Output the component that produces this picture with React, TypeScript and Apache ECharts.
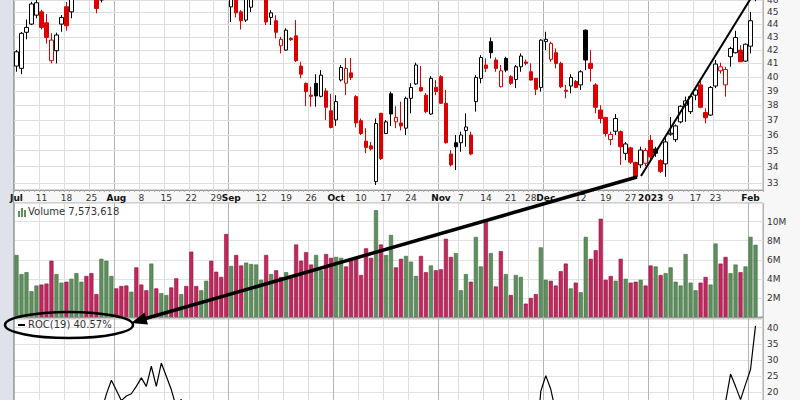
import React, { useEffect, useRef } from "react";
import * as echarts from "echarts";

// ---- categories (trading days) ----
const dates: string[] = [
  "2022-07-01","2022-07-05","2022-07-06","2022-07-07","2022-07-08","2022-07-11","2022-07-12","2022-07-13","2022-07-14","2022-07-15",
  "2022-07-18","2022-07-19","2022-07-20","2022-07-21","2022-07-22","2022-07-25","2022-07-26","2022-07-27","2022-07-28","2022-07-29",
  "2022-08-01","2022-08-02","2022-08-03","2022-08-04","2022-08-05","2022-08-08","2022-08-09","2022-08-10","2022-08-11","2022-08-12",
  "2022-08-15","2022-08-16","2022-08-17","2022-08-18","2022-08-19","2022-08-22","2022-08-23","2022-08-24","2022-08-25","2022-08-26",
  "2022-08-29","2022-08-30","2022-08-31",
  "2022-09-01","2022-09-02","2022-09-06","2022-09-07","2022-09-08","2022-09-09","2022-09-12","2022-09-13","2022-09-14","2022-09-15",
  "2022-09-16","2022-09-19","2022-09-20","2022-09-21","2022-09-22","2022-09-23","2022-09-26","2022-09-27","2022-09-28","2022-09-29","2022-09-30",
  "2022-10-03","2022-10-04","2022-10-05","2022-10-06","2022-10-07","2022-10-10","2022-10-11","2022-10-12","2022-10-13","2022-10-14",
  "2022-10-17","2022-10-18","2022-10-19","2022-10-20","2022-10-21","2022-10-24","2022-10-25","2022-10-26","2022-10-27","2022-10-28","2022-10-31",
  "2022-11-01","2022-11-02","2022-11-03","2022-11-04","2022-11-07","2022-11-08","2022-11-09","2022-11-10","2022-11-11",
  "2022-11-14","2022-11-15","2022-11-16","2022-11-17","2022-11-18","2022-11-21","2022-11-22","2022-11-23","2022-11-25",
  "2022-11-28","2022-11-29","2022-11-30",
  "2022-12-01","2022-12-02","2022-12-05","2022-12-06","2022-12-07","2022-12-08","2022-12-09","2022-12-12","2022-12-13","2022-12-14",
  "2022-12-15","2022-12-16","2022-12-19","2022-12-20","2022-12-21","2022-12-22","2022-12-23","2022-12-27","2022-12-28","2022-12-29","2022-12-30",
  "2023-01-03","2023-01-04","2023-01-05","2023-01-06","2023-01-09","2023-01-10","2023-01-11","2023-01-12","2023-01-13",
  "2023-01-17","2023-01-18","2023-01-19","2023-01-20","2023-01-23","2023-01-24","2023-01-25","2023-01-26","2023-01-27",
  "2023-01-30","2023-01-31","2023-02-01","2023-02-02"
];
const padDates: string[] = ["2023-02-03"];

// ---- price series (OHLC) ----
const opens: number[] = [
  40.8,40.63,43.38,44.03,44.75,45.02,44.13,41.2,41.95,44.03,45.44,45.02,46.8,47.4,48.1,47.3,46.5,46.0,48.8,50.4,
  51.9,51.0,50.9,50.5,51.8,50.9,50.6,51.2,53.4,52.5,53.8,55.2,53.8,52.6,53.0,51.0,49.2,48.7,49.4,50.0,
  47.6,47.4,47.0,45.43,46.3,45.02,44.35,45.4,46.7,47.3,47.0,44.57,44.3,42.33,42.0,42.9,43.1,40.8,39.54,38.7,
  39.54,38.62,39.0,37.62,37.0,39.78,39.55,40.3,38.6,36.95,35.6,35.3,33.08,37.45,36.1,38.8,36.87,36.8,36.45,38.48,
  39.5,39.25,38.7,37.4,39.25,40.02,38.13,34.78,35.5,35.5,36.3,36.0,38.25,39.9,40.88,42.65,41.25,39.3,41.37,40.02,
  39.82,40.75,41.1,40.38,39.9,39.25,42.65,41.3,41.8,41.0,39.05,39.35,39.67,39.43,43.55,41.0,39.43,37.67,37.17,35.7,
  36.25,36.22,34.82,35.17,34.25,34.1,34.2,35.65,35.1,34.37,34.16,36.05,35.7,36.87,38.0,37.56,38.7,39.43,37.5,37.33,
  39.35,40.45,39.43,41.5,41.8,42.0,41.17,42.3,46.6
];
const highs: number[] = [
  42.0,43.4,44.4,45.85,46.2,45.2,44.85,43.3,43.35,44.76,45.85,47.0,47.8,48.3,48.6,47.7,47.0,48.9,50.5,52.2,
  52.4,51.6,51.3,51.9,52.0,51.4,50.9,53.3,53.8,54.3,55.4,55.5,54.1,53.6,53.3,51.3,49.6,49.6,50.5,50.2,
  48.0,47.8,47.3,47.0,46.6,45.16,46.6,47.0,47.6,48.1,47.5,45.16,44.75,43.03,43.7,43.0,44.35,41.12,39.6,39.3,
  40.2,40.5,39.2,38.8,38.7,40.88,41.4,41.4,38.7,37.1,36.45,35.55,37.1,37.47,37.0,38.95,37.93,38.25,38.6,39.55,
  41.05,40.8,38.85,40.06,39.78,40.13,39.07,35.03,36.0,36.22,37.45,36.22,40.13,41.62,41.37,42.97,41.44,40.88,41.5,40.13,
  40.88,41.75,41.3,41.0,39.9,42.83,43.42,42.65,42.13,41.12,39.43,40.2,39.78,40.5,43.6,42.0,39.55,38.0,37.2,36.22,
  37.4,36.3,35.55,35.24,34.3,35.24,35.15,36.0,35.24,34.45,35.9,37.2,36.7,38.0,38.6,38.7,39.25,39.78,37.79,39.35,
  41.25,41.05,40.75,42.25,43.5,42.38,42.5,45.02,48.0
];
const lows: number[] = [
  40.38,40.2,42.83,43.95,44.5,43.6,42.5,41.0,41.0,43.42,43.5,44.5,46.3,47.0,46.9,46.5,44.9,45.8,48.3,50.0,
  50.8,50.2,49.8,50.1,50.4,50.0,49.6,51.0,52.0,52.2,53.5,53.7,52.2,52.1,51.2,48.7,48.2,48.4,49.1,47.8,
  47.0,46.6,46.0,44.2,44.57,43.6,44.2,45.0,46.4,47.0,43.95,43.96,42.9,41.75,41.95,42.7,41.1,39.9,37.93,37.9,
  37.9,38.55,37.0,36.43,36.6,39.67,38.7,39.78,36.5,36.0,34.83,35.0,32.88,34.4,36.06,36.6,36.45,36.3,36.0,37.45,
  39.43,38.95,37.45,37.33,38.7,38.13,35.45,34.0,33.78,34.92,35.24,34.7,37.56,39.54,40.35,41.37,40.38,39.25,40.35,39.43,
  39.2,40.38,40.85,39.73,38.7,38.95,42.0,41.12,40.63,39.2,38.48,38.83,39.2,39.07,40.5,39.67,37.45,36.77,35.9,35.34,
  36.0,34.1,34.4,34.16,33.27,33.9,34.03,34.3,34.6,33.6,33.37,35.95,35.55,36.77,36.87,37.4,38.35,37.79,36.77,37.26,
  39.2,40.25,38.6,40.75,41.75,41.1,41.1,41.75,45.9
];
const closes: number[] = [
  41.87,43.3,43.77,45.67,45.77,43.77,42.98,42.77,43.17,44.57,43.9,46.6,47.3,47.9,47.2,46.9,45.3,48.6,50.2,51.8,
  51.2,50.6,50.3,51.5,50.8,50.4,50.0,53.0,52.2,54.0,55.0,54.0,52.5,53.2,51.5,49.0,48.6,49.3,50.2,48.0,
  47.3,46.8,46.2,46.5,44.94,44.3,46.3,46.6,47.2,47.8,44.2,44.94,43.38,42.83,43.55,42.8,41.2,40.2,38.95,38.62,
  38.65,40.13,37.86,36.5,38.25,40.7,40.63,39.97,36.8,36.1,35.2,35.1,36.76,34.5,36.87,37.4,37.17,36.6,38.48,39.25,
  40.88,39.0,37.56,39.9,38.95,38.13,35.5,34.1,35.24,36.0,36.53,34.78,39.97,41.44,40.63,41.8,40.63,40.45,40.5,39.54,
  40.75,41.55,41.0,39.78,39.12,42.77,42.83,42.5,41.0,39.3,38.98,39.97,39.25,40.38,41.25,40.63,37.86,37.1,36.1,36.04,
  37.1,35.24,35.42,34.27,33.37,35.03,35.0,34.6,34.83,33.7,35.55,36.12,36.6,37.93,38.3,38.6,39.07,37.86,37.15,39.25,
  40.95,40.75,40.55,42.13,42.97,41.12,42.45,44.3,47.37
];

// ---- volume (millions) ----
const volumes: number[] = [
  6.5,4.5,4.7,2.7,3.3,3.4,3.5,5.9,4.5,3.6,3.7,4.0,4.6,3.7,4.3,4.6,2.4,6.1,5.9,4.3,
  3.0,3.25,3.3,2.65,5.2,3.4,2.8,5.6,3.0,2.5,2.3,3.1,4.05,2.4,3.25,6.85,3.25,2.8,3.8,5.9,
  4.75,4.2,8.7,5.35,6.5,5.4,5.7,5.55,5.5,3.9,6.5,4.5,4.9,4.2,4.7,4.4,7.6,5.9,6.8,5.5,
  6.5,4.9,6.6,6.2,6.3,6.2,5.3,6.1,6.2,4.4,7.2,6.2,11.2,7.6,6.5,8.6,5.2,6.1,6.4,5.8,
  4.3,6.4,4.7,5.4,4.9,5.0,8.2,6.3,6.7,2.8,4.5,3.7,8.4,5.3,10.2,6.7,3.2,6.9,4.5,2.3,
  4.4,4.2,1.4,2.0,2.4,7.3,3.9,3.8,3.3,4.8,5.6,3.0,3.6,2.6,8.4,6.1,7.0,10.3,3.9,4.3,
  3.8,6.1,4.0,3.6,3.7,3.9,3.3,5.4,5.3,4.4,4.6,5.2,3.7,3.3,6.6,3.6,2.8,3.6,4.2,3.4,
  7.7,5.6,6.3,4.6,5.5,4.7,5.3,8.4,7.573618
];
const lastVolumeLabel = "7,573,618";

// ---- ROC(19) in percent ----
const roc: number[] = [
  -6,1,3,8,9,4,2,1,3,7,5,10,12,13,11,10,6,14,19.5,23.8,
  20.7,17.5,18.9,19.6,21.9,24.5,21.9,28.1,21.9,29.1,25.0,20.9,15.5,17.9,12.0,8.2,0,-1.8,-3.1,-6.3,
  -6.5,-7.0,-10.3,-8.5,-10.8,-11.4,-12.6,-10.7,-12.6,-13.1,-18.1,-14.4,-18.5,-16.8,-11.1,-11.9,-16.4,-19.9,-18.9,-18.4,
  -17.4,-13.1,-18.6,-18.8,-13.7,-12.1,-12.8,-15.3,-23.0,-18.3,-21.7,-19.1,-14.2,-20.8,-13.9,-9.2,-7.5,-6.0,-0.4,1.6,
  1.9,3.0,2.9,4.3,-4.3,-6.2,-11.2,-7.3,-2.4,2.3,4.1,-5.4,15.9,12.4,8.6,12.5,11.0,5.1,3.2,-3.3,
  4.5,10.6,2.8,2.1,2.6,20.4,25.2,21.0,13.9,7.6,12.1,0,-5.3,-0.6,-1.3,0,-6.4,-8.4,-8.7,-11.6,
  -10.7,-14.0,-11.0,-12.4,-22.0,-18.2,-17.6,-15.6,-11.4,-13.5,-11.1,-8.0,-9.4,-8.0,-5.7,2.0,5.3,4.9,3.1,5.8,
  16.2,15.1,17.0,25.7,21.9,17.8,22.5,27.1,40.57
];
const rocLabel = "ROC(19) 40.57%";

// ---- axis ticks ----
const priceTicks: number[] = [33,34,35,36,37,38,39,40,41,42,43,44,45,46];
const tickLabels: [string, string][] = [
  ["2022-07-01","Jul"],["2022-07-11","11"],["2022-07-18","18"],["2022-07-25","25"],
  ["2022-08-01","Aug"],["2022-08-08","8"],["2022-08-15","15"],["2022-08-22","22"],["2022-08-29","29"],
  ["2022-09-01","Sep"],["2022-09-12","12"],["2022-09-19","19"],["2022-09-26","26"],
  ["2022-10-03","Oct"],["2022-10-10","10"],["2022-10-17","17"],["2022-10-24","24"],
  ["2022-11-01","Nov"],["2022-11-07","7"],["2022-11-14","14"],["2022-11-21","21"],["2022-11-28","28"],
  ["2022-12-01","Dec"],["2022-12-12","12"],["2022-12-19","19"],["2022-12-27","27"],
  ["2023-01-03","2023"],["2023-01-09","9"],["2023-01-17","17"],["2023-01-23","23"],
  ["2023-02-01","Feb"]
];
const monthStarts: string[] = ["2022-07-01","2022-08-01","2022-09-01","2022-10-03","2022-11-01","2022-12-01","2023-01-03","2023-02-01"];

const RED = "#dd0000";
const VOL_UP = "#5f8f5f";
const VOL_UP_B = "#3f6e3f";
const VOL_DN = "#c2275e";
const VOL_DN_B = "#8c1540";

export default function App() {
  const ref = useRef<HTMLDivElement>(null);
  useEffect(() => {
    if (!ref.current) return;
    const chart = echarts.init(ref.current, undefined, { renderer: "svg" });
    const cats = dates.concat(padDates);
    const labelMap: Record<string, string> = {};
    tickLabels.forEach(([d, l]) => (labelMap[d] = l));
    const monthSet = new Set(monthStarts);
    const isTick = (_i: number, v: string) => labelMap[v] !== undefined;
    const isMonth = (_i: number, v: string) => monthSet.has(v);

    const candleData = dates.map((d, i) => {
      const o = opens[i], c = closes[i];
      const prev = i > 0 ? closes[i - 1] : o;
      const up = c >= prev;
      const hollow = c > o;
      const col = up ? "#000000" : RED;
      return {
        value: [o, c, lows[i], highs[i]],
        itemStyle: {
          color: hollow ? "#ffffff" : col,
          color0: hollow ? "#ffffff" : col,
          borderColor: col,
          borderColor0: col,
          borderWidth: 1,
        },
      };
    });
    const volData = dates.map((d, i) => {
      const up = i === 0 ? true : closes[i] >= closes[i - 1];
      return {
        value: volumes[i],
        itemStyle: { color: up ? VOL_UP : VOL_DN, borderColor: up ? VOL_UP_B : VOL_DN_B, borderWidth: 0.6 },
      };
    });

    const mkX = (gridIndex: number, labels: boolean, month: boolean) => ({
      type: "category",
      gridIndex,
      data: cats,
      boundaryGap: true,
      axisLine: { show: !month, lineStyle: { color: "#9a9a9a" } },
      axisTick: month
        ? { show: false }
        : { show: true, interval: 0, length: 2, lineStyle: { color: "#b0b0b0" } },
      axisLabel: labels && !month
        ? {
            show: true,
            interval: isTick,
            margin: 3,
            fontFamily: "DejaVu Sans",
            fontSize: 9,
            color: "#333",
            formatter: (v: string) => {
              const l = labelMap[v] || "";
              return monthSet.has(v) ? `{b|${l}}` : l;
            },
            rich: { b: { fontWeight: "bold", fontSize: 9, color: "#111", fontFamily: "DejaVu Sans" } },
          }
        : { show: false },
      splitLine: {
        show: true,
        interval: month ? isMonth : isTick,
        lineStyle: { color: month ? "#b4b4b4" : "#dedede", width: 1 },
      },
    });

    const option: any = {
      animation: false,
      backgroundColor: "#f7f7f7",
      grid: [
        { left: 14, top: 0, width: 749, height: 190, show: true, backgroundColor: "#ffffff", borderColor: "#a8a8a8", borderWidth: 1 },
        { left: 14, top: 203, width: 749, height: 114, show: true, backgroundColor: "#ffffff", borderColor: "#a8a8a8", borderWidth: 1 },
        { left: 14, top: 319, width: 749, height: 203, show: true, backgroundColor: "#ffffff", borderColor: "#a8a8a8", borderWidth: 1 },
      ],
      xAxis: [mkX(0, true, false), mkX(0, false, true), mkX(1, false, false), mkX(1, false, true), mkX(2, false, false), mkX(2, false, true)],
      yAxis: [
        {
          type: "log", logBase: 10, gridIndex: 0, min: 32.58, max: 46.0, position: "right",
          axisLine: { show: false }, axisTick: { show: false }, axisLabel: { show: false }, splitLine: { show: false },
        },
        {
          type: "value", gridIndex: 1, min: 0, max: 114 / 9.54, interval: 2, position: "right",
          axisLine: { show: false }, axisTick: { show: false },
          axisLabel: {
            fontFamily: "DejaVu Sans", fontSize: 9, color: "#333", margin: 4,
            formatter: (v: number) => (v > 0 && v <= 10 ? v + "M" : ""),
          },
          splitLine: { lineStyle: { color: "#e2e2e2" } },
        },
        {
          type: "value", gridIndex: 2, min: -20, max: 42.7, interval: 5, position: "right",
          axisLine: { show: false }, axisTick: { show: false },
          axisLabel: {
            fontFamily: "DejaVu Sans", fontSize: 9, color: "#333", margin: 4,
            formatter: (v: number) => (v >= 20 && v <= 40 ? String(v) : ""),
          },
          splitLine: { lineStyle: { color: "#e2e2e2" } },
        },
      ],
      series: [
        {
          type: "candlestick",
          xAxisIndex: 0,
          yAxisIndex: 0,
          data: candleData,
          barWidth: 4,
          z: 3,
          clip: true,
          markLine: {
            silent: true,
            symbol: "none",
            z: 1,
            animation: false,
            lineStyle: { color: "#dedede", width: 1, type: "solid" },
            label: {
              position: "end",
              distance: 4,
              color: "#333",
              fontFamily: "DejaVu Sans",
              fontSize: 9,
              formatter: (p: any) => String(p.value),
            },
            data: priceTicks.map((v) => ({ yAxis: v })),
          },
        },
        {
          type: "bar",
          xAxisIndex: 2,
          yAxisIndex: 1,
          data: volData,
          barCategoryGap: "18%",
        },
        {
          type: "line",
          xAxisIndex: 4,
          yAxisIndex: 2,
          data: roc,
          symbol: "none",
          lineStyle: { color: "#000", width: 1.2 },
          clip: true,
        },
      ],
      graphic: [
        { type: "rect", shape: { x: 0, y: 0, width: 13, height: 530 }, style: { fill: "#dfe3e9" }, z: -10 },
        { type: "line", shape: { x1: 13.5, y1: 0, x2: 13.5, y2: 530 }, style: { stroke: "#9aa3ad", lineWidth: 1 }, z: -10 },
        // volume legend
        { type: "rect", shape: { x: 18, y: 211, width: 2, height: 6 }, style: { fill: VOL_UP }, z: 60 },
        { type: "rect", shape: { x: 21, y: 208, width: 2, height: 9 }, style: { fill: VOL_UP }, z: 60 },
        { type: "rect", shape: { x: 24, y: 210, width: 2, height: 7 }, style: { fill: VOL_UP }, z: 60 },
        {
          type: "text", x: 28, y: 206, z: 60,
          style: { text: "Volume " + lastVolumeLabel, fill: "#333", font: "10px 'DejaVu Sans'" },
        },
        // ROC legend
        { type: "line", shape: { x1: 18, y1: 325, x2: 25, y2: 325 }, style: { stroke: "#000", lineWidth: 2 }, z: 60 },
        {
          type: "text", x: 28, y: 319, z: 60,
          style: { text: rocLabel, fill: "#333", font: "10px 'DejaVu Sans'" },
        },
        // annotations
        { type: "ellipse", shape: { cx: 69, cy: 325, rx: 64, ry: 13 }, style: { fill: "none", stroke: "#000", lineWidth: 2.5 }, z: 70 },
        { type: "line", shape: { x1: 641, y1: 176, x2: 751, y2: -2 }, style: { stroke: "#000", lineWidth: 2 }, z: 70 },
        { type: "line", shape: { x1: 637, y1: 177, x2: 144, y2: 319 }, style: { stroke: "#000", lineWidth: 3.5 }, z: 70 },
        { type: "polygon", shape: { points: [[131, 323], [148, 324.5], [144.5, 312.5]] }, style: { fill: "#000" }, z: 70 },
      ],
    };
    chart.setOption(option);
    return () => chart.dispose();
  }, []);
  return <div ref={ref} style={{ position: "fixed", left: 0, top: 0, width: 800, height: 530 }} />;
}
